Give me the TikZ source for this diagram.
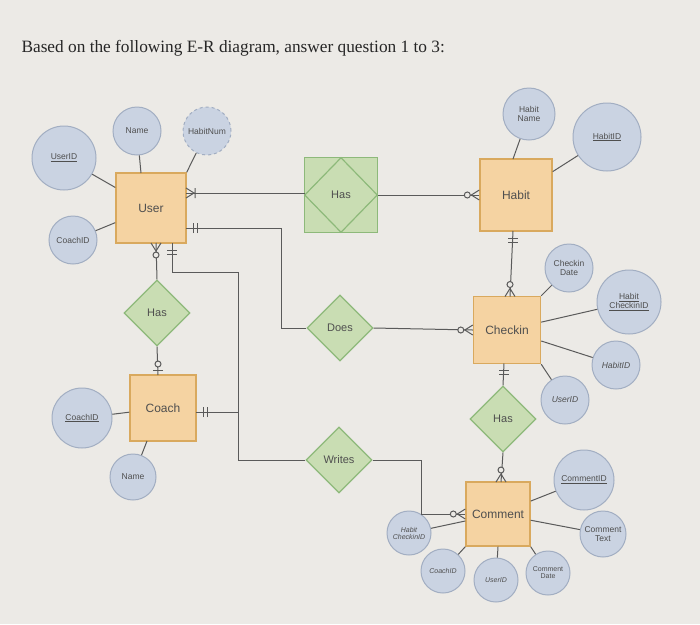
\documentclass[tikz,border=0pt]{standalone}
\usepackage{fontspec}
\setmainfont{Liberation Sans}
\newfontfamily\serifx{Liberation Serif}
\usetikzlibrary{shapes.geometric}
\definecolor{bg}{HTML}{ECEAE6}
\definecolor{entf}{HTML}{F5D3A2}
\definecolor{entd}{HTML}{D9A95E}
\definecolor{relf}{HTML}{C9DDB3}
\definecolor{reld}{HTML}{8DB97A}
\definecolor{attf}{HTML}{CAD3E2}
\definecolor{attd}{HTML}{A2AEC2}
\definecolor{txt}{HTML}{4F4F4F}
\definecolor{ln}{HTML}{5A5A5A}
\tikzset{
 ent/.style={draw=entd,fill=entf,line width=1.4pt,minimum width=#1,minimum height=#1,font=\fontsize{12}{12}\selectfont,text=txt},
 rel/.style={diamond,draw=reld,fill=relf,line width=1.2pt,minimum width=66pt,minimum height=66pt,inner sep=0pt,font=\fontsize{11}{11}\selectfont,text=txt},
 att/.style={circle,draw=attd,fill=attf,line width=1pt,minimum size=#1,inner sep=0pt,align=center,font=\fontsize{8.5}{9.5}\selectfont,text=txt},
 con/.style={draw=ln,line width=1pt},
}
\begin{document}
\begin{tikzpicture}[x=1pt,y=-1pt]
\fill[bg] (0,0) rectangle (700,624);
\useasboundingbox (0,0) rectangle (700,624);
\node[anchor=west,font=\serifx\fontsize{17.3}{17}\selectfont,text=black!85] (title) at (18,48) {Based on the following E-R diagram, answer question 1 to 3:};

\node[ent=70pt] (user) at (151,208) {User};
\node[ent=72pt] (habit) at (516,195) {Habit};
\node[ent=66pt] (coach) at (163,408) {Coach};
\node[ent=67pt] (checkin) at (507,330) {Checkin};
\node[ent=64pt] (comment) at (498,514) {Comment};

\node[draw=reld,fill=relf,line width=1.2pt,minimum width=73pt,minimum height=75pt] (hasbox) at (341,195) {};
\node[rel,minimum width=73pt,minimum height=75pt] (has1) at (341,195) {Has};
\node[rel] (has2) at (157,313) {Has};
\node[rel] (does) at (340,328) {Does};
\node[rel] (writes) at (339,460) {Writes};
\node[rel] (has3) at (503,419) {Has};

\node[att=64pt] (uid) at (64,158) {\underline{UserID}};
\node[att=48pt] (uname) at (137,131) {Name};
\node[att=48pt,dashed] (hnum) at (207,131) {HabitNum};
\node[att=48pt] (ucid) at (73,240) {CoachID};
\node[att=52pt] (hname) at (529,114) {Habit\\Name};
\node[att=68pt] (hid) at (607,137) {\underline{HabitID}};
\node[att=60pt] (cid) at (82,418) {\underline{CoachID}};
\node[att=46pt] (cname) at (133,477) {Name};
\node[att=48pt] (cdate) at (569,268) {Checkin\\Date};
\node[att=64pt] (hcid) at (629,302) {\underline{Habit}\\\underline{CheckinID}};
\node[att=48pt] (chid) at (616,365) {\itshape HabitID};
\node[att=48pt] (cuid) at (565,400) {\itshape UserID};
\node[att=60pt] (cmid) at (584,480) {\underline{CommentID}};
\node[att=46pt] (ctext) at (603,534) {Comment\\Text};
\node[att=44pt,font=\fontsize{7}{7}\selectfont\itshape] (mhc) at (409,533) {Habit\\CheckinID};
\node[att=44pt,font=\fontsize{7}{7}\selectfont\itshape] (mco) at (443,571) {CoachID};
\node[att=44pt,font=\fontsize{7}{7}\selectfont\itshape] (mus) at (496,580) {UserID};
\node[att=44pt,font=\fontsize{7}{7}\selectfont] (mdt) at (548,573) {Comment\\Date};

\coordinate (pun) at (141,173);
\coordinate (phn) at (513,159);
\coordinate (pcn) at (147,441);
\draw[con] (uid) -- (user);
\draw[con] (uname) -- (pun);
\draw[con] (hnum) -- (user.north east);
\draw[con] (ucid) -- (user);
\draw[con] (hname) -- (phn);
\draw[con] (hid) -- (habit);
\draw[con] (cid) -- (coach);
\draw[con] (cname) -- (pcn);
\draw[con] (cdate) -- (checkin.north east);
\draw[con] (hcid) -- (checkin);
\draw[con] (chid) -- (checkin);
\draw[con] (cuid) -- (checkin.south east);
\draw[con] (cmid) -- (comment);
\draw[con] (ctext) -- (comment);
\draw[con] (mhc) -- (comment);
\draw[con] (mco) -- (comment.south west);
\draw[con] (mus) -- (comment.south);
\draw[con] (mdt) -- (comment.south east);

\coordinate (u1) at (186,193);
\coordinate (b1) at (304.5,193);
\draw[con] (u1) -- (b1);
\draw[con] (hasbox.east) -- (habit.west);
\coordinate (u2) at (186,228);
\coordinate (j1) at (281,228);
\draw[con] (u2) -- (j1) |- (does.west);
\coordinate (u3) at (172,243);
\coordinate (j2) at (172,272);
\coordinate (j3) at (238,272);
\coordinate (j4) at (238,460);
\draw[con] (u3) -- (j2) -- (j3) -- (j4) -- (writes.west);
\coordinate (c1) at (196,412);
\coordinate (j5) at (238,412);
\draw[con] (c1) -- (j5);
\draw[con] (does.east) -- (checkin.west);
\coordinate (j6) at (421,460);
\draw[con] (writes.east) -- (j6) |- (comment.west);
\coordinate (u4) at (156,243);
\draw[con] (u4) -- (has2.north);
\coordinate (c2) at (158,375);
\draw[con] (has2.south) -- (c2);
\coordinate (h1) at (513,231);
\coordinate (k1) at (510,296.5);
\draw[con] (h1) -- (k1);
\coordinate (k2) at (504,363.5);
\draw[con] (k2) -- (has3.north);
\coordinate (m1) at (501,482);
\draw[con] (has3.south) -- (m1);

\draw[con,shift={(u1)}] (0,5)--(8,0)--(0,-5) (9,5)--(9,-5);
\draw[con,shift={(habit.west)},rotate=180] (0,5)--(8,0)--(0,-5);
\draw[con,fill=bg,shift={(habit.west)},rotate=180] (12,0) circle (3);
\draw[con,shift={(u2)}] (7,5)--(7,-5) (11,5)--(11,-5);
\draw[con,shift={(u3)},rotate=270] (7,5)--(7,-5) (11,5)--(11,-5);
\draw[con,shift={(c1)}] (7,5)--(7,-5) (11,5)--(11,-5);
\draw[con,shift={(checkin.west)},rotate=180] (0,5)--(8,0)--(0,-5);
\draw[con,fill=bg,shift={(checkin.west)},rotate=180] (12,0) circle (3);
\draw[con,shift={(comment.west)},rotate=180] (0,5)--(8,0)--(0,-5);
\draw[con,fill=bg,shift={(comment.west)},rotate=180] (12,0) circle (3);
\draw[con,shift={(u4)},rotate=270] (0,5)--(8,0)--(0,-5);
\draw[con,fill=bg,shift={(u4)},rotate=270] (12,0) circle (3);
\draw[con,shift={(c2)},rotate=90] (5,5)--(5,-5);
\draw[con,fill=bg,shift={(c2)},rotate=90] (11,0) circle (3);
\draw[con,shift={(h1)},rotate=270] (7,5)--(7,-5) (11,5)--(11,-5);
\draw[con,shift={(k1)},rotate=90] (0,5)--(8,0)--(0,-5);
\draw[con,fill=bg,shift={(k1)},rotate=90] (12,0) circle (3);
\draw[con,shift={(k2)},rotate=270] (7,5)--(7,-5) (11,5)--(11,-5);
\draw[con,shift={(m1)},rotate=90] (0,5)--(8,0)--(0,-5);
\draw[con,fill=bg,shift={(m1)},rotate=90] (12,0) circle (3);
\end{tikzpicture}
\end{document}
